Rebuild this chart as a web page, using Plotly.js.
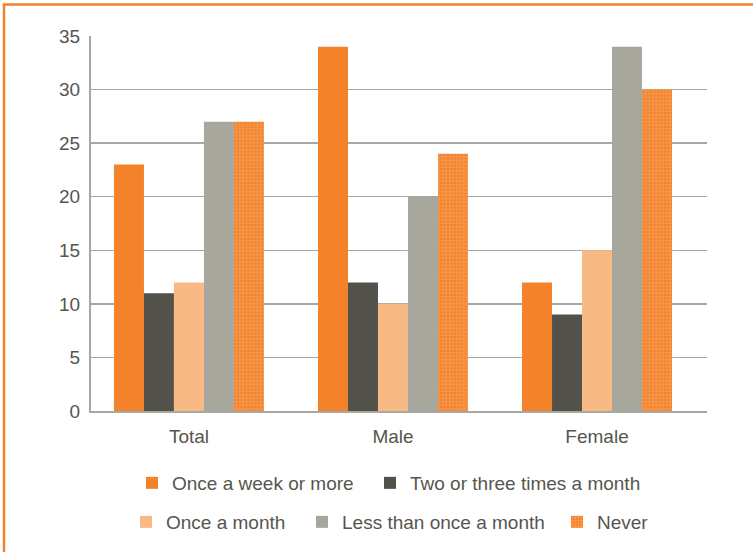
<!DOCTYPE html>
<html><head><meta charset="utf-8">
<script src="https://cdn.plot.ly/plotly-3.0.1.min.js"></script>
<style>html,body{margin:0;padding:0;background:#fff}#chart{width:753px;height:552px}</style>
</head><body><div id="chart"></div>
<script>
const categories = ["Total", "Male", "Female"];
const seriesNames = ["Once a week or more", "Two or three times a month", "Once a month", "Less than once a month", "Never"];
const onceAWeek = [23, 34, 12];
const twoThreeMonth = [11, 12, 9];
const onceAMonth = [12, 10, 15];
const lessThanMonth = [27, 20, 34];
const never = [27, 24, 30];
const yTicks = [0, 5, 10, 15, 20, 25, 30, 35];

const colors = ["#f4822a", "#52524a", "#f9b985", "#a7a79d", "#f4822a"];
const values = [onceAWeek, twoThreeMonth, onceAMonth, lessThanMonth, never];
const legendIds = ["legend", "legend2", "legend3", "legend4", "legend5"];
// legend positions (container px): left of marker, row centre
const legendPos = [[146, 483], [384, 483], [140, 522], [316, 522], [571, 522]];

const traces = values.map((v, i) => {
  const t = {
    type: "bar", name: seriesNames[i], x: categories, y: v,
    legend: legendIds[i],
    marker: {color: colors[i], line: {width: 0}},
    hoverinfo: "x+y+name"
  };
  if (i === 4) {
    t.marker.pattern = {shape: "+", bgcolor: "#f4822a", fgcolor: "rgba(255,255,255,0.75)", size: 3.5, solidity: 0.25, fillmode: "overlay"};
  }
  return t;
});

const txt = "#56564e";
const W = 753, H = 552;

const layout = {
  width: W, height: H,
  margin: {l: 91, r: 46, t: 36, b: 141},
  paper_bgcolor: "#ffffff", plot_bgcolor: "#ffffff",
  barmode: "group", bargap: 0.265, bargroupgap: 0,
  font: {family: "Liberation Sans, Arial, sans-serif", size: 19, color: txt},
  xaxis: {
    type: "category", range: [-0.48, 2.539], showgrid: false,
    showline: true, linecolor: "#a8a89f", linewidth: 2,
    ticks: "", tickfont: {size: 19, color: txt}, ticklabelstandoff: 7
  },
  yaxis: {
    range: [0, 35], tickvals: yTicks, showgrid: true, gridcolor: "#a8a89f", gridwidth: 1.5,
    showline: true, linecolor: "#a8a89f", linewidth: 2, zeroline: false,
    ticks: "", tickfont: {size: 19, color: txt}, ticklabelstandoff: 5
  },
  showlegend: true,
  shapes: [{
    type: "path", xref: "paper", yref: "paper",
    path: "M -0.1412,-0.5 L -0.1412,1.084 L 1.2,1.084",
    line: {color: "#f4822a", width: 2.5}
  }]
};

legendIds.forEach((id, i) => {
  layout[id] = {
    orientation: "h", xref: "container", yref: "container",
    xanchor: "left", yanchor: "middle",
    x: (legendPos[i][0] - 14) / W, y: 1 - legendPos[i][1] / H,
    font: {family: "Liberation Sans, Arial, sans-serif", size: 19, color: txt},
    bgcolor: "rgba(0,0,0,0)", borderwidth: 0, itemclick: false
  };
});

Plotly.newPlot("chart", traces, layout, {displayModeBar: false, staticPlot: true});
</script></body></html>
